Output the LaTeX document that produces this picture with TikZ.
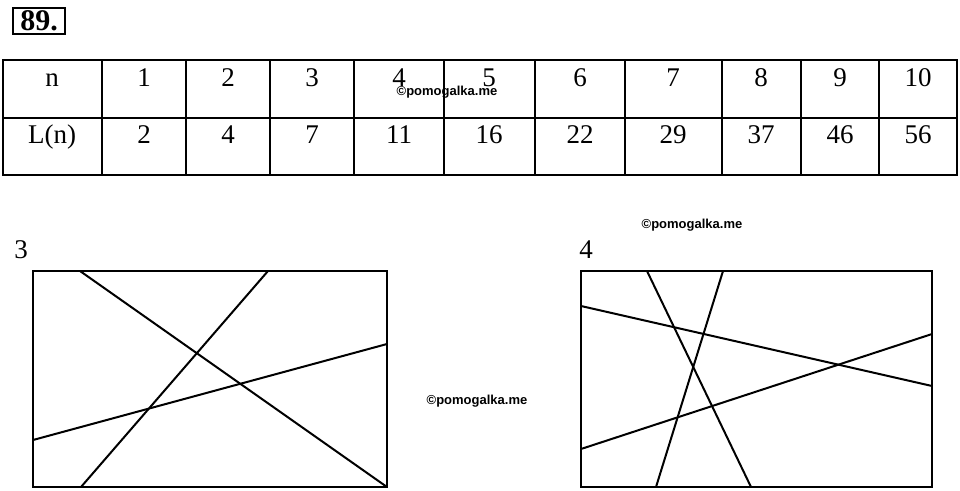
\documentclass[tikz,border=0pt]{standalone}
\usepackage{fontspec}
\setmainfont{Liberation Serif}
\newfontfamily\wmfont{Liberation Sans}

\begin{document}
\begin{tikzpicture}[x=1pt,y=-1pt,line width=1.8pt,
    cell/.style={anchor=base,font=\fontsize{27}{30}\selectfont},
    wm/.style={font=\wmfont\bfseries\fontsize{13}{15}\selectfont},
    cut/.style={line width=2pt}]
  \useasboundingbox (0,0) rectangle (960,490);
  \node[draw,inner sep=0pt,minimum width=52pt,minimum height=26pt,
    font=\bfseries\fontsize{30}{32}\selectfont] (num) at (39,21) {89.};
  % table
  \draw (3,60) rectangle (957,175);
  \draw (3,118) -- (957,118);
  \foreach \x in {102,186,270,354,444,535,625,722,801,879}{
    \draw (\x,60) -- (\x,175);
    }
  \foreach \c/\a/\b [count=\i] in {52/n/{L(n)},144/1/2,228/2/4,312/3/7,
      399/4/11,489/5/16,580/6/22,673/7/29,761/8/37,840/9/46,918/10/56}{
    \node[cell] (n\i) at (\c,86) {\a};
    \node[cell] (L\i) at (\c,143) {\b};
    }
  % figure 3
  \node[cell] (three) at (21,258) {3};
  \draw (33,271) rectangle (387,487);
  \draw[cut] (80,271) -- (387,487);
  \draw[cut] (81,487) -- (268,271);
  \draw[cut] (33,440) -- (387,344);
  % figure 4
  \node[cell] (four) at (586,258) {4};
  \draw (581,271) rectangle (932,487);
  \draw[cut] (647,271) -- (751,487);
  \draw[cut] (723,271) -- (656,487);
  \draw[cut] (581,306) -- (932,386);
  \draw[cut] (581,449) -- (932,334);
  % watermarks
  \node[wm] (wm1) at (447,92) {©pomogalka.me};
  \node[wm] (wm2) at (692,225) {©pomogalka.me};
  \node[wm] (wm3) at (477,401) {©pomogalka.me};
\end{tikzpicture}
\end{document}
